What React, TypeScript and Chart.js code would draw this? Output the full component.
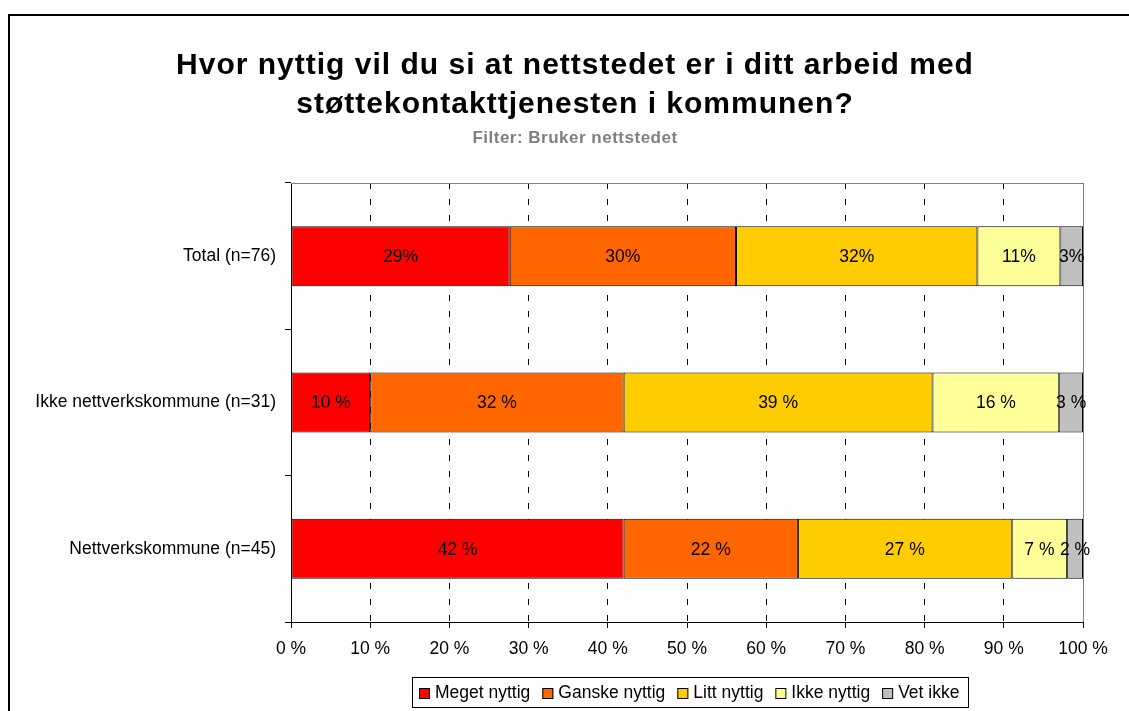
import React, { useEffect, useRef } from "react";
import { Chart, registerables } from "chart.js";

Chart.register(...registerables);

// ---------- data ----------
const categories = ["Total (n=76)", "Ikke nettverkskommune (n=31)", "Nettverkskommune (n=45)"];
const seriesNames = ["Meget nyttig", "Ganske nyttig", "Litt nyttig", "Ikke nyttig", "Vet ikke"];
const meget = [29, 10, 42];
const ganske = [30, 32, 22];
const litt = [32, 39, 27];
const ikkeNyttig = [11, 16, 7];
const vetIkke = [3, 3, 2];
const percentSuffix = ["%", " %", " %"];
const xTickValues = [0, 10, 20, 30, 40, 50, 60, 70, 80, 90, 100];
const seriesColors = ["#FF0000", "#FF6600", "#FFCC00", "#FFFF99", "#C0C0C0"];
const titleLines = [
  "Hvor nyttig vil du si at nettstedet er i ditt arbeid med",
  "støttekontakttjenesten i kommunen?",
];
const subtitleText = "Filter: Bruker nettstedet";

const FONT = "'Liberation Sans', Arial, Helvetica, sans-serif";
const allSeries = [meget, ganske, litt, ikkeNyttig, vetIkke];
const rowTotals = categories.map((_, i) => allSeries.reduce((s, arr) => s + arr[i], 0));

const framePlugin = {
  id: "frame",
  beforeDraw(chart: any) {
    const ctx = chart.ctx;
    ctx.save();
    ctx.fillStyle = "#fff";
    ctx.fillRect(0, 0, chart.width, chart.height);
    ctx.strokeStyle = "#000";
    ctx.lineWidth = 2;
    ctx.strokeRect(9, 15, chart.width + 40, chart.height + 40);
    // titles
    ctx.fillStyle = "#000";
    ctx.textAlign = "center";
    ctx.textBaseline = "alphabetic";
    ctx.font = `bold 30px ${FONT}`;
    (ctx as any).letterSpacing = "1px";
    ctx.fillText(titleLines[0], 575, 74);
    ctx.fillText(titleLines[1], 575, 113);
    ctx.font = `bold 17px ${FONT}`;
    (ctx as any).letterSpacing = "0.5px";
    ctx.fillStyle = "#808080";
    ctx.fillText(subtitleText, 575, 143);
    (ctx as any).letterSpacing = "0px";
    ctx.restore();
  },
  beforeDatasetsDraw(chart: any) {
    const { ctx, chartArea } = chart;
    ctx.save();
    ctx.strokeStyle = "#808080";
    ctx.lineWidth = 1;
    ctx.beginPath();
    ctx.moveTo(Math.round(chartArea.left), Math.round(chartArea.top) + 0.5);
    ctx.lineTo(Math.round(chartArea.right) + 0.5, Math.round(chartArea.top) + 0.5);
    ctx.lineTo(Math.round(chartArea.right) + 0.5, Math.round(chartArea.bottom));
    ctx.stroke();
    ctx.restore();
  },
  afterDatasetsDraw(chart: any) {
    const ctx = chart.ctx;
    ctx.save();
    ctx.font = `17.5px ${FONT}`;
    ctx.fillStyle = "#000";
    ctx.textAlign = "center";
    ctx.textBaseline = "middle";
    chart.data.datasets.forEach((ds: any, di: number) => {
      const meta = chart.getDatasetMeta(di);
      meta.data.forEach((el: any, i: number) => {
        const p = el.getProps(["x", "base", "y"], true);
        const raw = ds.rawValues[i];
        ctx.fillText(`${raw}${percentSuffix[i]}`, (p.x + p.base) / 2, p.y + 1);
      });
    });
    ctx.restore();
  },
  afterDraw(chart: any) {
    const ctx = chart.ctx;
    ctx.save();
    ctx.font = `17.5px ${FONT}`;
    const sq = 11, gapText = 5, gapItem = 12, padL = 7, padR = 9;
    const widths = seriesNames.map((n) => ctx.measureText(n).width);
    const total = padL + padR + widths.reduce((s, w) => s + sq + gapText + w, 0) + gapItem * (seriesNames.length - 1);
    const boxLeft = Math.round(690.5 - total / 2);
    const boxTop = 677, boxH = 30;
    ctx.fillStyle = "#fff";
    ctx.fillRect(boxLeft, boxTop, total, boxH);
    ctx.strokeStyle = "#000";
    ctx.lineWidth = 1;
    ctx.strokeRect(boxLeft + 0.5, boxTop + 0.5, Math.round(total), boxH);
    let x = boxLeft + padL;
    const cy = boxTop + boxH / 2 + 1;
    ctx.textBaseline = "middle";
    ctx.textAlign = "left";
    seriesNames.forEach((name, i) => {
      ctx.fillStyle = seriesColors[i];
      ctx.fillRect(x, Math.round(cy - sq / 2), sq, sq);
      ctx.strokeStyle = "#000";
      ctx.strokeRect(x + 0.5, Math.round(cy - sq / 2) + 0.5, sq - 1, sq - 1);
      ctx.fillStyle = "#000";
      ctx.fillText(name, x + sq + gapText, cy);
      x += sq + gapText + widths[i] + gapItem;
    });
    ctx.restore();
  },
};

export default function App() {
  const canvasRef = useRef<HTMLCanvasElement | null>(null);

  useEffect(() => {
    if (!canvasRef.current) return;
    const datasets = allSeries.map((arr, si) => ({
      label: seriesNames[si],
      data: arr.map((v, i) => (v / rowTotals[i]) * 100),
      rawValues: arr,
      backgroundColor: seriesColors[si],
      borderColor: "#000",
      borderWidth: 1,
      borderSkipped: false,
      barPercentage: 0.41,
      categoryPercentage: 1,
    }));
    const chart = new Chart(canvasRef.current, {
      type: "bar",
      data: { labels: categories, datasets: datasets as any },
      plugins: [framePlugin],
      options: {
        indexAxis: "y",
        responsive: false,
        animation: false,
        devicePixelRatio: 1,
        layout: { padding: { left: 0, right: 46, top: 183, bottom: 0 } },
        plugins: {
          legend: { display: false },
          title: { display: false },
          tooltip: { enabled: false },
        },
        scales: {
          x: {
            stacked: true,
            min: 0,
            max: 100,
            afterBuildTicks: (scale: any) => {
              scale.ticks = xTickValues.map((v) => ({ value: v }));
            },
            ticks: {
              callback: (v: any) => `${v} %`,
              font: { family: FONT, size: 17.5 },
              color: "#000",
              padding: 11,
              maxRotation: 0,
              autoSkip: false,
            },
            grid: {
              color: "#000",
              lineWidth: 1,
              tickLength: 6,
              tickColor: "#000",
              tickBorderDash: [],
            },
            border: { color: "#000", width: 1, dash: [6, 10] },
            afterFit: (scale: any) => {
              scale.height = 89;
            },
          },
          y: {
            stacked: true,
            ticks: {
              font: { family: FONT, size: 17.5 },
              color: "#000",
              padding: 9,
            },
            grid: {
              drawOnChartArea: false,
              offset: true,
              tickLength: 6,
              color: "#000",
            },
            border: { color: "#000", width: 1 },
            afterFit: (scale: any) => {
              scale.width = 291;
            },
          },
        },
      } as any,
    });
    return () => chart.destroy();
  }, []);

  return (
    <div style={{ position: "absolute", left: 0, top: 0, width: 1129, height: 711, overflow: "hidden" }}>
      <canvas ref={canvasRef} width={1129} height={711} style={{ display: "block", width: 1129, height: 711 }} />
    </div>
  );
}
